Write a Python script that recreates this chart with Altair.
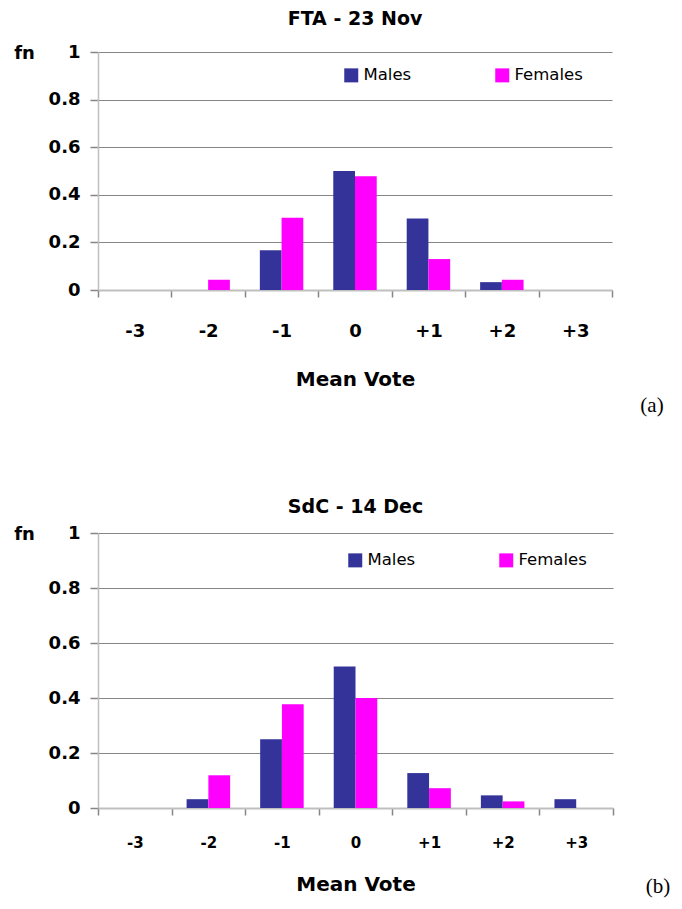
import altair as alt
import pandas as pd

categories = ["-3", "-2", "-1", "0", "+1", "+2", "+3"]
series = ["Males", "Females"]
colors = ["#333399", "#FF00FF"]

fta_males = [0.0, 0.0, 0.167, 0.500, 0.300, 0.033, 0.0]
fta_females = [0.0, 0.043, 0.304, 0.478, 0.130, 0.043, 0.0]
sdc_males = [0.0, 0.032, 0.250, 0.515, 0.127, 0.046, 0.032]
sdc_females = [0.0, 0.119, 0.377, 0.400, 0.072, 0.024, 0.0]

y_ticks = [0, 0.2, 0.4, 0.6, 0.8, 1]
titles = ["FTA - 23 Nov", "SdC - 14 Dec"]
panel_labels = ["(a)", "(b)"]
x_title = "Mean Vote"
y_title = "fn"

FONT = "DejaVu Sans"


def make_df(m, f):
    rows = []
    for c, v in zip(categories, m):
        rows.append({"vote": c, "sex": "Males", "fn": v})
    for c, v in zip(categories, f):
        rows.append({"vote": c, "sex": "Females", "fn": v})
    return pd.DataFrame(rows)


def panel(df, title, label, w, h, xlab_size, xlab_pad, xtitle_pad,
          leg_x, leg_y, title_offset, lab_x, lab_y):
    bars = alt.Chart(df).mark_bar().encode(
        x=alt.X("vote:N", sort=categories,
                scale=alt.Scale(paddingInner=0, paddingOuter=0),
                axis=alt.Axis(title=x_title, labelAngle=0, tickBand="extent",
                              domainColor="#BFBFBF", domainWidth=2,
                              tickColor="#868686", tickSize=7, tickWidth=1.5,
                              labelFont=FONT, labelFontWeight="bold",
                              labelFontSize=xlab_size, labelColor="black",
                              labelPadding=xlab_pad, titlePadding=xtitle_pad,
                              titleFont=FONT, titleFontSize=20,
                              titleFontWeight="bold", titleColor="black")),
        xOffset=alt.XOffset("sex:N", sort=series,
                            scale=alt.Scale(paddingInner=0, paddingOuter=0.69)),
        y=alt.Y("fn:Q", scale=alt.Scale(domain=[0, 1]),
                axis=alt.Axis(values=y_ticks, format="~g", title=y_title,
                              titleAngle=0, titleX=-74, titleY=1,
                              titleAlign="center", titleBaseline="middle",
                              titleFont=FONT, titleFontSize=18,
                              titleFontWeight="bold", titleColor="black",
                              domainColor="#BFBFBF", domainWidth=1.5,
                              tickColor="#868686", tickSize=8, tickWidth=1.5,
                              gridColor="#868686", gridWidth=1,
                              labelFont=FONT, labelFontWeight="bold",
                              labelFontSize=18, labelColor="black",
                              labelPadding=10)),
        color=alt.Color("sex:N", sort=series,
                        scale=alt.Scale(domain=series, range=colors),
                        legend=alt.Legend(title=None, orient="none",
                                          legendX=leg_x, legendY=leg_y,
                                          direction="horizontal",
                                          symbolType="square", symbolSize=196,
                                          symbolStrokeWidth=0,
                                          labelFont=FONT, labelFontSize=16.5,
                                          labelColor="black", labelOffset=4,
                                          columnPadding=82)),
    )
    txt = alt.Chart(pd.DataFrame({"t": [label]})).mark_text(
        font="Liberation Serif", fontSize=21, align="center",
        baseline="middle", color="black"
    ).encode(text="t:N", x=alt.value(lab_x), y=alt.value(lab_y))
    return alt.layer(bars, txt).properties(
        width=w, height=h,
        title=alt.TitleParams(title, font=FONT, fontSize=19, fontWeight="bold",
                              anchor="middle", frame="group", color="black",
                              offset=title_offset))


top = panel(make_df(fta_males, fta_females), titles[0], panel_labels[0],
            514, 238, 18, 25, 29, 245, 15, 14, 554, 354)
bottom = panel(make_df(sdc_males, sdc_females), titles[1], panel_labels[1],
               515, 275, 15, 20, 24, 249, 19, 7, 560, 354)

chart = alt.vconcat(top, bottom, spacing=80).resolve_scale(
    x="independent", xOffset="independent", y="independent"
).resolve_legend(color="independent").properties(
    padding={"left": 5, "top": 1, "right": 0, "bottom": 0}
).configure_view(stroke="transparent")

chart.save("out.html", embed_options={"renderer": "svg", "actions": False})
